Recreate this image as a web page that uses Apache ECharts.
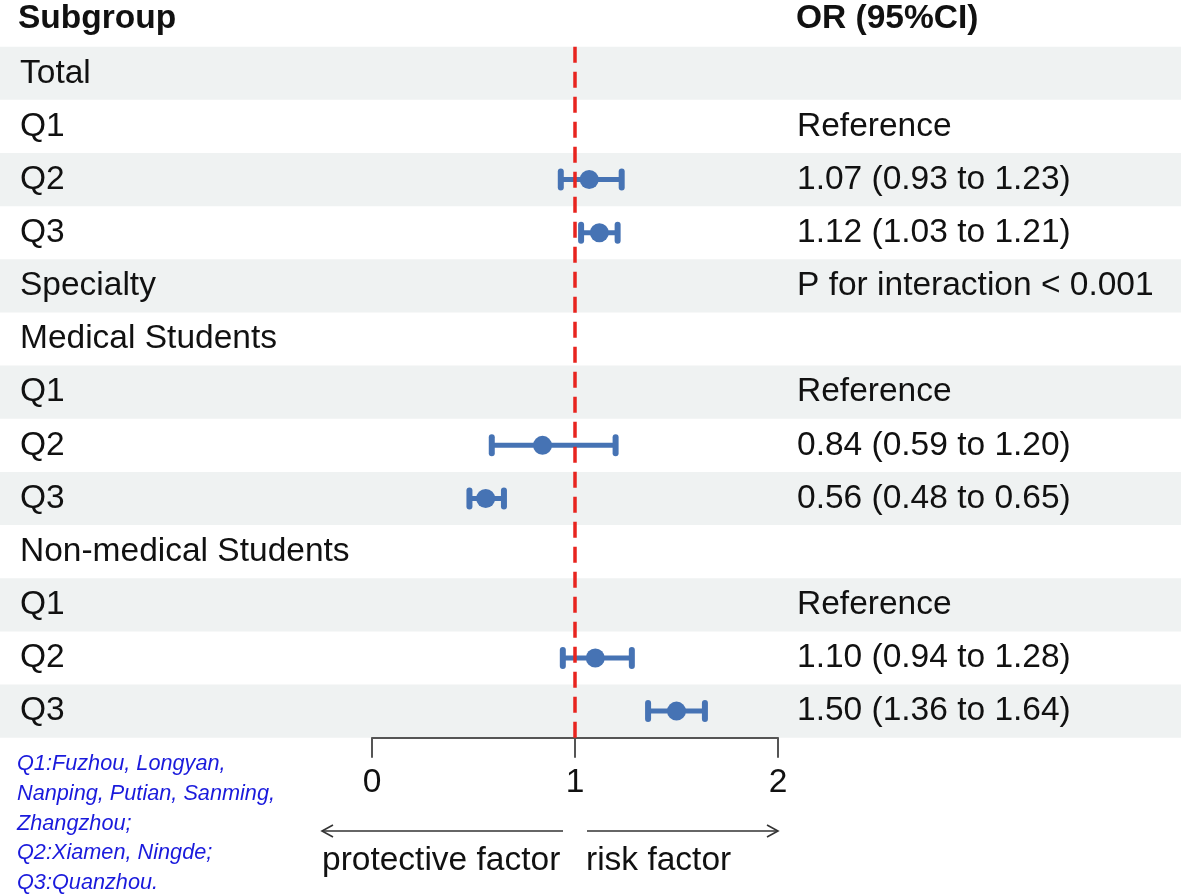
<!DOCTYPE html>
<html>
<head>
<meta charset="utf-8">
<script src="https://cdn.jsdelivr.net/npm/echarts@6/dist/echarts.min.js"></script>
<style>
html,body{margin:0;padding:0;background:#fff;}
#chart{width:1181px;height:895px;}
</style>
</head>
<body>
<div id="chart"></div>
<script>
// ---- data ----
const rowLabels = ['Total','Q1','Q2','Q3','Specialty','Medical Students','Q1','Q2','Q3','Non-medical Students','Q1','Q2','Q3'];
const estimateRows = [2, 3, 7, 8, 11, 12];
const orValues = [1.07, 1.12, 0.84, 0.56, 1.10, 1.50];
const lowerCI = [0.93, 1.03, 0.59, 0.48, 0.94, 1.36];
const upperCI = [1.23, 1.21, 1.20, 0.65, 1.28, 1.64];
const referenceRows = [1, 6, 10];
const interactionRow = 4;
const interactionText = 'P for interaction < 0.001';
const xMin = 0, xMax = 2, xInterval = 1;
const nullValue = 1;
const footnoteLines = ['Q1:Fuzhou, Longyan,', 'Nanping, Putian, Sanming,', 'Zhangzhou;', 'Q2:Xiamen, Ningde;', 'Q3:Quanzhou.'];
const headerLeft = 'Subgroup';
const headerRight = 'OR (95%CI)';
const leftArrowText = 'protective factor';
const rightArrowText = 'risk factor';

// ---- derived ----
const rightLabels = rowLabels.map(() => '');
referenceRows.forEach(r => { rightLabels[r] = 'Reference'; });
rightLabels[interactionRow] = interactionText;
estimateRows.forEach((r, i) => {
  rightLabels[r] = orValues[i].toFixed(2) + ' (' + lowerCI[i].toFixed(2) + ' to ' + upperCI[i].toFixed(2) + ')';
});
const rowIds = rowLabels.map((_, i) => String(i));
const bandData = rowLabels.map((_, i) => [0, i]).filter((_, i) => i % 2 === 0);
const ciData = estimateRows.map((r, i) => [lowerCI[i], upperCI[i], orValues[i], r]);

const FONT = "'Liberation Sans', Arial, sans-serif";
const FS = 33.5;
const BLUE = '#4673b4';

const chart = echarts.init(document.getElementById('chart'), null, {renderer: 'canvas'});
chart.setOption({
  backgroundColor: '#ffffff',
  animation: false,
  textStyle: {fontFamily: FONT},
  title: [
    {text: headerLeft, left: 18, top: 2, padding: 0,
     textStyle: {fontFamily: FONT, fontSize: FS, fontWeight: 'bold', color: '#111'}},
    {text: headerRight, left: 796, top: 2, padding: 0,
     textStyle: {fontFamily: FONT, fontSize: FS, fontWeight: 'bold', color: '#111'}}
  ],
  grid: {left: 372, width: 406, top: 46.7, height: 691, containLabel: false},
  xAxis: {
    type: 'value', min: xMin, max: xMax, interval: xInterval,
    axisLine: {show: true, lineStyle: {color: '#555', width: 2}},
    axisTick: {show: true, length: 20, lineStyle: {color: '#555', width: 2}},
    axisLabel: {fontFamily: FONT, fontSize: FS, color: '#111', margin: 28},
    splitLine: {show: false}
  },
  yAxis: [
    {type: 'category', inverse: true, data: rowIds,
     axisLine: {show: false}, axisTick: {show: false}, splitLine: {show: false},
     axisLabel: {align: 'left', margin: 352, fontFamily: FONT, fontSize: FS, color: '#111',
                 formatter: (v, i) => rowLabels[i], interval: 0}},
    {type: 'category', inverse: true, data: rowIds, position: 'right',
     axisLine: {show: false}, axisTick: {show: false}, splitLine: {show: false},
     axisLabel: {align: 'left', margin: 19, fontFamily: FONT, fontSize: FS, color: '#111',
                 formatter: (v, i) => rightLabels[i], interval: 0}}
  ],
  series: [
    {
      type: 'custom', name: 'bands', z: 0, silent: true, clip: false,
      xAxisIndex: 0, yAxisIndex: 0,
      dimensions: ['x', 'row'],
      encode: {x: 0, y: 1},
      data: bandData,
      renderItem: (params, api) => {
        const c = api.coord([0, api.value(1)]);
        const h = api.size([0, 1])[1];
        return {type: 'rect', shape: {x: 0, y: c[1] - h / 2, width: api.getWidth(), height: h},
                style: {fill: '#eff2f2'}};
      }
    },
    {
      type: 'custom', name: 'OR', z: 3, clip: false,
      xAxisIndex: 0, yAxisIndex: 0,
      dimensions: ['low', 'high', 'or', 'row'],
      encode: {x: [0, 1, 2], y: 3},
      data: ciData,
      renderItem: (params, api) => {
        const row = api.value(3);
        const p1 = api.coord([api.value(0), row]);
        const p2 = api.coord([api.value(1), row]);
        const pc = api.coord([api.value(2), row]);
        const cap = 8;
        const capStyle = {stroke: BLUE, lineWidth: 6, lineCap: 'round'};
        return {type: 'group', children: [
          {type: 'line', shape: {x1: p1[0], y1: p1[1], x2: p2[0], y2: p2[1]}, style: {stroke: BLUE, lineWidth: 5}},
          {type: 'line', shape: {x1: p1[0], y1: p1[1] - cap, x2: p1[0], y2: p1[1] + cap}, style: capStyle},
          {type: 'line', shape: {x1: p2[0], y1: p2[1] - cap, x2: p2[0], y2: p2[1] + cap}, style: capStyle},
          {type: 'circle', shape: {cx: pc[0], cy: pc[1], r: 9.5}, style: {fill: BLUE}}
        ]};
      }
    },
    {
      type: 'custom', name: 'null line', z: 6, silent: true, clip: false,
      xAxisIndex: 0, yAxisIndex: 0,
      dimensions: ['x', 'row'],
      encode: {x: 0, y: 1},
      data: [[nullValue, 0]],
      renderItem: (params, api) => {
        const x = api.coord([api.value(0), 0])[0];
        const cs = params.coordSys;
        return {type: 'line', shape: {x1: x, y1: cs.y, x2: x, y2: cs.y + cs.height},
                style: {stroke: '#e8241f', lineWidth: 3.5, lineDash: [16, 9]}};
      }
    }
  ],
  graphic: [
    {type: 'text', left: 17, top: 749, z: 10,
     style: {text: footnoteLines.join('\n'), font: 'italic 21.7px ' + FONT, fill: '#1a1adc', lineHeight: 29.8}},
    {type: 'polyline', z: 10, shape: {points: [[322, 831], [563, 831]]}, style: {stroke: '#333', lineWidth: 1.6, fill: null}},
    {type: 'polyline', z: 10, shape: {points: [[333, 825], [322, 831], [333, 837]]}, style: {stroke: '#333', lineWidth: 1.6, fill: null}},
    {type: 'polyline', z: 10, shape: {points: [[587, 831], [778, 831]]}, style: {stroke: '#333', lineWidth: 1.6, fill: null}},
    {type: 'polyline', z: 10, shape: {points: [[767, 825], [778, 831], [767, 837]]}, style: {stroke: '#333', lineWidth: 1.6, fill: null}},
    {type: 'text', x: 322, y: 861, z: 10,
     style: {text: leftArrowText, font: FS + 'px ' + FONT, fill: '#111', verticalAlign: 'middle', align: 'left'}},
    {type: 'text', x: 586, y: 861, z: 10,
     style: {text: rightArrowText, font: FS + 'px ' + FONT, fill: '#111', verticalAlign: 'middle', align: 'left'}}
  ]
});
</script>
</body>
</html>
